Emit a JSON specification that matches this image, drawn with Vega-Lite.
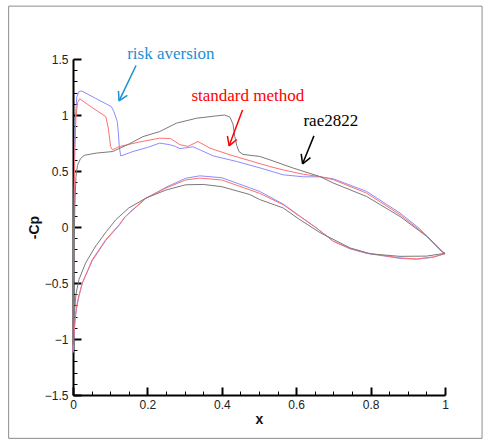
{
  "$schema": "https://vega.github.io/schema/vega-lite/v6.json",
  "width": 372,
  "height": 336,
  "autosize": {"type": "none"},
  "padding": {"left": 73, "top": 59, "right": 49, "bottom": 45},
  "background": "white",
  "config": {
    "view": {"stroke": null},
    "axis": {
      "labelFont": "Liberation Sans",
      "labelFontSize": 12,
      "labelColor": "#222222",
      "titleFont": "Liberation Sans",
      "titleFontSize": 14,
      "titleFontWeight": "bold",
      "titleColor": "#111111",
      "domainColor": "#000000",
      "domainWidth": 2,
      "tickColor": "#000000",
      "grid": false
    }
  },
  "datasets": {
    "frame": [{"x": -0.173, "x2": 1.0996, "y": 1.972, "y2": -1.887}],
    "curves": [
      {"c": "risk", "s": "u", "i": 0, "x": 0.0005, "y": -1.12},
      {"c": "risk", "s": "u", "i": 1, "x": 0.001, "y": -0.8},
      {"c": "risk", "s": "u", "i": 2, "x": 0.002, "y": -0.3},
      {"c": "risk", "s": "u", "i": 3, "x": 0.003, "y": 0.2},
      {"c": "risk", "s": "u", "i": 4, "x": 0.004, "y": 0.6},
      {"c": "risk", "s": "u", "i": 5, "x": 0.006, "y": 0.95},
      {"c": "risk", "s": "u", "i": 6, "x": 0.010, "y": 1.16},
      {"c": "risk", "s": "u", "i": 7, "x": 0.016, "y": 1.209},
      {"c": "risk", "s": "u", "i": 8, "x": 0.023, "y": 1.215},
      {"c": "risk", "s": "u", "i": 9, "x": 0.06, "y": 1.15},
      {"c": "risk", "s": "u", "i": 10, "x": 0.103, "y": 1.075},
      {"c": "risk", "s": "u", "i": 11, "x": 0.11, "y": 1.03},
      {"c": "risk", "s": "u", "i": 12, "x": 0.119, "y": 0.941},
      {"c": "risk", "s": "u", "i": 13, "x": 0.122, "y": 0.84},
      {"c": "risk", "s": "u", "i": 14, "x": 0.124, "y": 0.733},
      {"c": "risk", "s": "u", "i": 15, "x": 0.128, "y": 0.635},
      {"c": "risk", "s": "u", "i": 16, "x": 0.137, "y": 0.644},
      {"c": "risk", "s": "u", "i": 17, "x": 0.161, "y": 0.674},
      {"c": "risk", "s": "u", "i": 18, "x": 0.2, "y": 0.71},
      {"c": "risk", "s": "u", "i": 19, "x": 0.233, "y": 0.749},
      {"c": "risk", "s": "u", "i": 20, "x": 0.26, "y": 0.735},
      {"c": "risk", "s": "u", "i": 21, "x": 0.275, "y": 0.72},
      {"c": "risk", "s": "u", "i": 22, "x": 0.287, "y": 0.7},
      {"c": "risk", "s": "u", "i": 23, "x": 0.305, "y": 0.708},
      {"c": "risk", "s": "u", "i": 24, "x": 0.323, "y": 0.716},
      {"c": "risk", "s": "u", "i": 25, "x": 0.341, "y": 0.689},
      {"c": "risk", "s": "u", "i": 26, "x": 0.377, "y": 0.635},
      {"c": "risk", "s": "u", "i": 27, "x": 0.44, "y": 0.585},
      {"c": "risk", "s": "u", "i": 28, "x": 0.5, "y": 0.53},
      {"c": "risk", "s": "u", "i": 29, "x": 0.565, "y": 0.466},
      {"c": "risk", "s": "u", "i": 30, "x": 0.62, "y": 0.448},
      {"c": "risk", "s": "u", "i": 31, "x": 0.664, "y": 0.448},
      {"c": "risk", "s": "u", "i": 32, "x": 0.7, "y": 0.43},
      {"c": "risk", "s": "u", "i": 33, "x": 0.789, "y": 0.318},
      {"c": "risk", "s": "u", "i": 34, "x": 0.879, "y": 0.125},
      {"c": "risk", "s": "u", "i": 35, "x": 0.93, "y": -0.01},
      {"c": "risk", "s": "u", "i": 36, "x": 0.96, "y": -0.113},
      {"c": "risk", "s": "u", "i": 37, "x": 0.985, "y": -0.2},
      {"c": "risk", "s": "u", "i": 38, "x": 1.0, "y": -0.235},
      {"c": "risk", "s": "l", "i": 0, "x": 0.0005, "y": -1.12},
      {"c": "risk", "s": "l", "i": 1, "x": 0.003, "y": -0.95},
      {"c": "risk", "s": "l", "i": 2, "x": 0.006, "y": -0.82},
      {"c": "risk", "s": "l", "i": 3, "x": 0.01, "y": -0.72},
      {"c": "risk", "s": "l", "i": 4, "x": 0.016, "y": -0.62},
      {"c": "risk", "s": "l", "i": 5, "x": 0.025, "y": -0.5},
      {"c": "risk", "s": "l", "i": 6, "x": 0.052, "y": -0.3},
      {"c": "risk", "s": "l", "i": 7, "x": 0.088, "y": -0.12},
      {"c": "risk", "s": "l", "i": 8, "x": 0.124, "y": 0.015},
      {"c": "risk", "s": "l", "i": 9, "x": 0.14, "y": 0.09},
      {"c": "risk", "s": "l", "i": 10, "x": 0.16, "y": 0.15},
      {"c": "risk", "s": "l", "i": 11, "x": 0.196, "y": 0.255},
      {"c": "risk", "s": "l", "i": 12, "x": 0.25, "y": 0.355},
      {"c": "risk", "s": "l", "i": 13, "x": 0.303, "y": 0.435},
      {"c": "risk", "s": "l", "i": 14, "x": 0.341, "y": 0.457},
      {"c": "risk", "s": "l", "i": 15, "x": 0.4, "y": 0.44},
      {"c": "risk", "s": "l", "i": 16, "x": 0.475, "y": 0.35},
      {"c": "risk", "s": "l", "i": 17, "x": 0.502, "y": 0.317},
      {"c": "risk", "s": "l", "i": 18, "x": 0.565, "y": 0.205},
      {"c": "risk", "s": "l", "i": 19, "x": 0.61, "y": 0.097},
      {"c": "risk", "s": "l", "i": 20, "x": 0.655, "y": -0.01},
      {"c": "risk", "s": "l", "i": 21, "x": 0.7, "y": -0.128},
      {"c": "risk", "s": "l", "i": 22, "x": 0.745, "y": -0.195},
      {"c": "risk", "s": "l", "i": 23, "x": 0.789, "y": -0.235},
      {"c": "risk", "s": "l", "i": 24, "x": 0.879, "y": -0.28},
      {"c": "risk", "s": "l", "i": 25, "x": 0.924, "y": -0.288},
      {"c": "risk", "s": "l", "i": 26, "x": 0.969, "y": -0.27},
      {"c": "risk", "s": "l", "i": 27, "x": 1.0, "y": -0.235},
      {"c": "standard", "s": "u", "i": 0, "x": 0.0005, "y": -1.1},
      {"c": "standard", "s": "u", "i": 1, "x": 0.001, "y": -0.75},
      {"c": "standard", "s": "u", "i": 2, "x": 0.002, "y": -0.25},
      {"c": "standard", "s": "u", "i": 3, "x": 0.003, "y": 0.25},
      {"c": "standard", "s": "u", "i": 4, "x": 0.005, "y": 0.7},
      {"c": "standard", "s": "u", "i": 5, "x": 0.008, "y": 0.98},
      {"c": "standard", "s": "u", "i": 6, "x": 0.012, "y": 1.11},
      {"c": "standard", "s": "u", "i": 7, "x": 0.018, "y": 1.145},
      {"c": "standard", "s": "u", "i": 8, "x": 0.05, "y": 1.07},
      {"c": "standard", "s": "u", "i": 9, "x": 0.088, "y": 0.986},
      {"c": "standard", "s": "u", "i": 10, "x": 0.095, "y": 0.882},
      {"c": "standard", "s": "u", "i": 11, "x": 0.101, "y": 0.718},
      {"c": "standard", "s": "u", "i": 12, "x": 0.106, "y": 0.689},
      {"c": "standard", "s": "u", "i": 13, "x": 0.124, "y": 0.718},
      {"c": "standard", "s": "u", "i": 14, "x": 0.18, "y": 0.76},
      {"c": "standard", "s": "u", "i": 15, "x": 0.233, "y": 0.793},
      {"c": "standard", "s": "u", "i": 16, "x": 0.262, "y": 0.79},
      {"c": "standard", "s": "u", "i": 17, "x": 0.287, "y": 0.735},
      {"c": "standard", "s": "u", "i": 18, "x": 0.309, "y": 0.72},
      {"c": "standard", "s": "u", "i": 19, "x": 0.336, "y": 0.763},
      {"c": "standard", "s": "u", "i": 20, "x": 0.368, "y": 0.704},
      {"c": "standard", "s": "u", "i": 21, "x": 0.422, "y": 0.644},
      {"c": "standard", "s": "u", "i": 22, "x": 0.529, "y": 0.54},
      {"c": "standard", "s": "u", "i": 23, "x": 0.565, "y": 0.51},
      {"c": "standard", "s": "u", "i": 24, "x": 0.62, "y": 0.47},
      {"c": "standard", "s": "u", "i": 25, "x": 0.664, "y": 0.45},
      {"c": "standard", "s": "u", "i": 26, "x": 0.7, "y": 0.422},
      {"c": "standard", "s": "u", "i": 27, "x": 0.789, "y": 0.303},
      {"c": "standard", "s": "u", "i": 28, "x": 0.879, "y": 0.11},
      {"c": "standard", "s": "u", "i": 29, "x": 0.95, "y": -0.075},
      {"c": "standard", "s": "u", "i": 30, "x": 0.985, "y": -0.19},
      {"c": "standard", "s": "u", "i": 31, "x": 1.0, "y": -0.24},
      {"c": "standard", "s": "l", "i": 0, "x": 0.0005, "y": -1.1},
      {"c": "standard", "s": "l", "i": 1, "x": 0.003, "y": -0.93},
      {"c": "standard", "s": "l", "i": 2, "x": 0.006, "y": -0.8},
      {"c": "standard", "s": "l", "i": 3, "x": 0.01, "y": -0.7},
      {"c": "standard", "s": "l", "i": 4, "x": 0.016, "y": -0.61},
      {"c": "standard", "s": "l", "i": 5, "x": 0.025, "y": -0.5},
      {"c": "standard", "s": "l", "i": 6, "x": 0.052, "y": -0.29},
      {"c": "standard", "s": "l", "i": 7, "x": 0.088, "y": -0.113},
      {"c": "standard", "s": "l", "i": 8, "x": 0.124, "y": 0.02},
      {"c": "standard", "s": "l", "i": 9, "x": 0.14, "y": 0.09},
      {"c": "standard", "s": "l", "i": 10, "x": 0.16, "y": 0.154},
      {"c": "standard", "s": "l", "i": 11, "x": 0.196, "y": 0.258},
      {"c": "standard", "s": "l", "i": 12, "x": 0.25, "y": 0.348},
      {"c": "standard", "s": "l", "i": 13, "x": 0.303, "y": 0.42},
      {"c": "standard", "s": "l", "i": 14, "x": 0.341, "y": 0.437},
      {"c": "standard", "s": "l", "i": 15, "x": 0.4, "y": 0.42},
      {"c": "standard", "s": "l", "i": 16, "x": 0.475, "y": 0.332},
      {"c": "standard", "s": "l", "i": 17, "x": 0.502, "y": 0.3},
      {"c": "standard", "s": "l", "i": 18, "x": 0.565, "y": 0.199},
      {"c": "standard", "s": "l", "i": 19, "x": 0.61, "y": 0.094},
      {"c": "standard", "s": "l", "i": 20, "x": 0.655, "y": -0.01},
      {"c": "standard", "s": "l", "i": 21, "x": 0.7, "y": -0.128},
      {"c": "standard", "s": "l", "i": 22, "x": 0.745, "y": -0.192},
      {"c": "standard", "s": "l", "i": 23, "x": 0.789, "y": -0.232},
      {"c": "standard", "s": "l", "i": 24, "x": 0.879, "y": -0.276},
      {"c": "standard", "s": "l", "i": 25, "x": 0.924, "y": -0.285},
      {"c": "standard", "s": "l", "i": 26, "x": 0.969, "y": -0.267},
      {"c": "standard", "s": "l", "i": 27, "x": 1.0, "y": -0.24},
      {"c": "rae2822", "s": "u", "i": 0, "x": 0.0005, "y": -1.05},
      {"c": "rae2822", "s": "u", "i": 1, "x": 0.001, "y": -0.7},
      {"c": "rae2822", "s": "u", "i": 2, "x": 0.003, "y": -0.2},
      {"c": "rae2822", "s": "u", "i": 3, "x": 0.005, "y": 0.2},
      {"c": "rae2822", "s": "u", "i": 4, "x": 0.008, "y": 0.45},
      {"c": "rae2822", "s": "u", "i": 5, "x": 0.012, "y": 0.55},
      {"c": "rae2822", "s": "u", "i": 6, "x": 0.02, "y": 0.61},
      {"c": "rae2822", "s": "u", "i": 7, "x": 0.03, "y": 0.64},
      {"c": "rae2822", "s": "u", "i": 8, "x": 0.063, "y": 0.66},
      {"c": "rae2822", "s": "u", "i": 9, "x": 0.107, "y": 0.674},
      {"c": "rae2822", "s": "u", "i": 10, "x": 0.15, "y": 0.74},
      {"c": "rae2822", "s": "u", "i": 11, "x": 0.188, "y": 0.807},
      {"c": "rae2822", "s": "u", "i": 12, "x": 0.233, "y": 0.852},
      {"c": "rae2822", "s": "u", "i": 13, "x": 0.278, "y": 0.927},
      {"c": "rae2822", "s": "u", "i": 14, "x": 0.332, "y": 0.971},
      {"c": "rae2822", "s": "u", "i": 15, "x": 0.38, "y": 0.99},
      {"c": "rae2822", "s": "u", "i": 16, "x": 0.408, "y": 1.0},
      {"c": "rae2822", "s": "u", "i": 17, "x": 0.422, "y": 0.98},
      {"c": "rae2822", "s": "u", "i": 18, "x": 0.43, "y": 0.92},
      {"c": "rae2822", "s": "u", "i": 19, "x": 0.435, "y": 0.807},
      {"c": "rae2822", "s": "u", "i": 20, "x": 0.44, "y": 0.73},
      {"c": "rae2822", "s": "u", "i": 21, "x": 0.446, "y": 0.674},
      {"c": "rae2822", "s": "u", "i": 22, "x": 0.457, "y": 0.648},
      {"c": "rae2822", "s": "u", "i": 23, "x": 0.502, "y": 0.63},
      {"c": "rae2822", "s": "u", "i": 24, "x": 0.529, "y": 0.6},
      {"c": "rae2822", "s": "u", "i": 25, "x": 0.592, "y": 0.526},
      {"c": "rae2822", "s": "u", "i": 26, "x": 0.664, "y": 0.45},
      {"c": "rae2822", "s": "u", "i": 27, "x": 0.7, "y": 0.392},
      {"c": "rae2822", "s": "u", "i": 28, "x": 0.789, "y": 0.273},
      {"c": "rae2822", "s": "u", "i": 29, "x": 0.879, "y": 0.094},
      {"c": "rae2822", "s": "u", "i": 30, "x": 0.951, "y": -0.084},
      {"c": "rae2822", "s": "u", "i": 31, "x": 0.995, "y": -0.23},
      {"c": "rae2822", "s": "u", "i": 32, "x": 1.0, "y": -0.235},
      {"c": "rae2822", "s": "l", "i": 0, "x": 0.0005, "y": -1.05},
      {"c": "rae2822", "s": "l", "i": 1, "x": 0.002, "y": -0.85},
      {"c": "rae2822", "s": "l", "i": 2, "x": 0.004, "y": -0.75},
      {"c": "rae2822", "s": "l", "i": 3, "x": 0.008, "y": -0.6},
      {"c": "rae2822", "s": "l", "i": 4, "x": 0.016, "y": -0.47},
      {"c": "rae2822", "s": "l", "i": 5, "x": 0.034, "y": -0.32},
      {"c": "rae2822", "s": "l", "i": 6, "x": 0.061, "y": -0.17},
      {"c": "rae2822", "s": "l", "i": 7, "x": 0.09, "y": -0.04},
      {"c": "rae2822", "s": "l", "i": 8, "x": 0.115, "y": 0.065},
      {"c": "rae2822", "s": "l", "i": 9, "x": 0.15, "y": 0.17},
      {"c": "rae2822", "s": "l", "i": 10, "x": 0.196, "y": 0.258},
      {"c": "rae2822", "s": "l", "i": 11, "x": 0.25, "y": 0.33},
      {"c": "rae2822", "s": "l", "i": 12, "x": 0.303, "y": 0.377},
      {"c": "rae2822", "s": "l", "i": 13, "x": 0.35, "y": 0.38},
      {"c": "rae2822", "s": "l", "i": 14, "x": 0.4, "y": 0.36},
      {"c": "rae2822", "s": "l", "i": 15, "x": 0.475, "y": 0.29},
      {"c": "rae2822", "s": "l", "i": 16, "x": 0.502, "y": 0.245},
      {"c": "rae2822", "s": "l", "i": 17, "x": 0.565, "y": 0.17},
      {"c": "rae2822", "s": "l", "i": 18, "x": 0.61, "y": 0.065},
      {"c": "rae2822", "s": "l", "i": 19, "x": 0.664, "y": -0.05},
      {"c": "rae2822", "s": "l", "i": 20, "x": 0.745, "y": -0.187},
      {"c": "rae2822", "s": "l", "i": 21, "x": 0.8, "y": -0.24},
      {"c": "rae2822", "s": "l", "i": 22, "x": 0.879, "y": -0.262},
      {"c": "rae2822", "s": "l", "i": 23, "x": 0.95, "y": -0.26},
      {"c": "rae2822", "s": "l", "i": 24, "x": 1.0, "y": -0.235}
    ],
    "arrows": [
      {"g": "risk", "x": 0.1695, "y": 1.442, "x2": 0.1238, "y2": 1.126},
      {"g": "risk", "x": 0.1221, "y": 1.2148, "x2": 0.1238, "y2": 1.126},
      {"g": "risk", "x": 0.1461, "y": 1.1747, "x2": 0.1238, "y2": 1.126},
      {"g": "standard", "x": 0.4557, "y": 1.0455, "x2": 0.4197, "y2": 0.7246},
      {"g": "standard", "x": 0.4151, "y": 0.8128, "x2": 0.4197, "y2": 0.7246},
      {"g": "standard", "x": 0.4404, "y": 0.7816, "x2": 0.4197, "y2": 0.7246},
      {"g": "rae2822", "x": 0.6476, "y": 0.8137, "x2": 0.6172, "y2": 0.5642},
      {"g": "rae2822", "x": 0.6134, "y": 0.6524, "x2": 0.6172, "y2": 0.5642},
      {"g": "rae2822", "x": 0.6384, "y": 0.6194, "x2": 0.6172, "y2": 0.5642}
    ],
    "labels": [
      {"g": "risk", "text": "risk aversion", "x": 0.263, "y": 1.5},
      {"g": "standard", "text": "standard method", "x": 0.47, "y": 1.126},
      {"g": "rae2822", "text": "rae2822", "x": 0.693, "y": 0.903}
    ]
  },
  "layer": [
    {
      "data": {"name": "curves"},
      "mark": {"type": "line", "strokeWidth": 1, "clip": false},
      "encoding": {
        "x": {
          "field": "x", "type": "quantitative",
          "scale": {"domain": [0, 1], "nice": false, "zero": false},
          "axis": {
            "title": "x",
            "orient": "bottom",
            "values": [0, 0.2, 0.4, 0.6, 0.8, 1],
            "format": "~g",
            "labelOverlap": false,
            "labelFlush": false,
            "tickSize": -8,
            "tickWidth": 2,
            "labelPadding": 12,
            "titlePadding": 2
          }
        },
        "y": {
          "field": "y", "type": "quantitative",
          "scale": {"domain": [-1.5, 1.5], "nice": false, "zero": false},
          "axis": {
            "title": "-Cp",
            "orient": "left",
            "values": [-1.5, -1, -0.5, 0, 0.5, 1, 1.5],
            "format": "~g",
            "labelOverlap": false,
            "labelFlush": false,
            "tickSize": -8,
            "tickWidth": 2,
            "labelPadding": 13,
            "titlePadding": 3
          }
        },
        "color": {
          "field": "c", "type": "nominal",
          "scale": {"domain": ["rae2822", "standard", "risk"], "range": ["#7a7a7a", "#ff7070", "#8c8cff"]},
          "legend": null
        },
        "detail": {"field": "s"},
        "order": {"field": "i", "type": "quantitative"}
      }
    },
    {
      "data": {"name": "frame"},
      "mark": {"type": "rect", "filled": false, "stroke": "#8c8c8c", "strokeWidth": 1, "clip": false},
      "encoding": {
        "x": {
          "field": "x", "type": "quantitative", "scale": {"domain": [0, 1], "nice": false, "zero": false},
          "axis": {
            "orient": "bottom", "title": null, "labels": false, "domain": false,
            "values": [0.05, 0.1, 0.15, 0.25, 0.3, 0.35, 0.45, 0.5, 0.55, 0.65, 0.7, 0.75, 0.85, 0.9, 0.95],
            "tickSize": -4, "tickWidth": 1
          }
        },
        "x2": {"field": "x2"},
        "y": {
          "field": "y", "type": "quantitative", "scale": {"domain": [-1.5, 1.5], "nice": false, "zero": false},
          "axis": {
            "orient": "left", "title": null, "labels": false, "domain": false,
            "values": [-1.4, -1.3, -1.2, -1.1, -0.9, -0.8, -0.7, -0.6, -0.4, -0.3, -0.2, -0.1, 0.1, 0.2, 0.3, 0.4, 0.6, 0.7, 0.8, 0.9, 1.1, 1.2, 1.3, 1.4],
            "tickSize": -4, "tickWidth": 1
          }
        },
        "y2": {"field": "y2"}
      }
    },
    {
      "data": {"name": "arrows"},
      "mark": {"type": "rule", "strokeWidth": 1.5, "clip": false},
      "encoding": {
        "x": {"field": "x", "type": "quantitative", "scale": {"domain": [0, 1], "nice": false, "zero": false}, "axis": null},
        "x2": {"field": "x2"},
        "y": {"field": "y", "type": "quantitative", "scale": {"domain": [-1.5, 1.5], "nice": false, "zero": false}, "axis": null},
        "y2": {"field": "y2"},
        "color": {
          "field": "g", "type": "nominal",
          "scale": {"domain": ["risk", "standard", "rae2822"], "range": ["#1b8fd2", "#ff0000", "#000000"]},
          "legend": null
        }
      }
    },
    {
      "data": {"name": "labels"},
      "mark": {"type": "text", "font": "Liberation Serif", "fontSize": 17, "align": "center", "baseline": "alphabetic", "clip": false},
      "encoding": {
        "x": {"field": "x", "type": "quantitative", "scale": {"domain": [0, 1], "nice": false, "zero": false}, "axis": null},
        "y": {"field": "y", "type": "quantitative", "scale": {"domain": [-1.5, 1.5], "nice": false, "zero": false}, "axis": null},
        "text": {"field": "text"},
        "color": {
          "field": "g", "type": "nominal",
          "scale": {"domain": ["risk", "standard", "rae2822"], "range": ["#1b8fd2", "#ff0000", "#000000"]},
          "legend": null
        }
      }
    }
  ],
  "resolve": {"scale": {"color": "independent"}, "axis": {"x": "independent", "y": "independent"}}
}
